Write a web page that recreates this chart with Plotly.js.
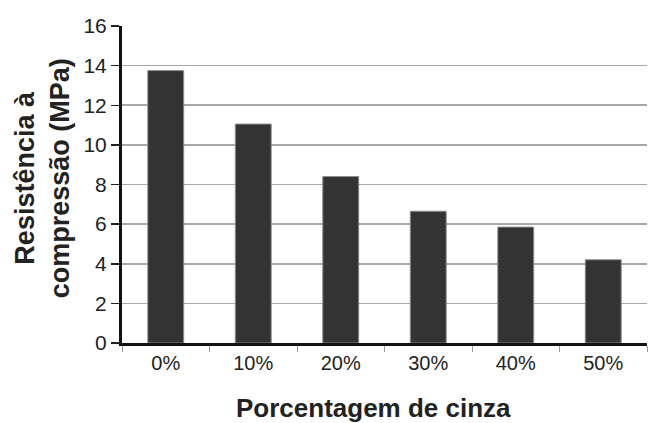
<!DOCTYPE html>
<html>
<head>
<meta charset="utf-8">
<script src="https://cdn.plot.ly/plotly-3.0.1.min.js"></script>
<style>html,body{margin:0;padding:0;background:#fff;}#chart{width:651px;height:423px;}</style>
</head>
<body>
<div id="chart"></div>
<script>
const categories = ["0%", "10%", "20%", "30%", "40%", "50%"];
const resistencia = [13.75, 11.05, 8.4, 6.65, 5.85, 4.2];
const yTickValues = [0, 2, 4, 6, 8, 10, 12, 14, 16];
const xTitle = "Porcentagem de cinza";
const yTitle = "Resistência à<br>compressão (MPa)";

const font = "Liberation Sans, Arial, sans-serif";
const titleFont = {size: 27, family: font, color: "#222222", weight: "bold"};

Plotly.newPlot("chart", [{
  type: "bar",
  x: categories,
  y: resistencia,
  marker: {color: "#333333", line: {color: "#8a8a8a", width: 1}},
  hoverinfo: "none"
}], {
  width: 651, height: 423,
  margin: {l: 122, r: 4, t: 26, b: 80, pad: 0},
  paper_bgcolor: "#ffffff", plot_bgcolor: "#ffffff",
  bargap: 0.59,
  showlegend: false,
  font: {family: font, color: "#222222"},
  xaxis: {
    type: "category",
    tickson: "boundaries",
    ticks: "outside", ticklen: 6, tickwidth: 1, tickcolor: "#999999",
    showline: true, linecolor: "#111111", linewidth: 3,
    showgrid: false, zeroline: false,
    tickfont: {size: 20, family: font, color: "#222222"},
    automargin: false
  },
  yaxis: {
    range: [0, 16],
    tickvals: yTickValues,
    ticks: "outside", ticklen: 8, tickwidth: 1.5, tickcolor: "#222222",
    showline: true, linecolor: "#111111", linewidth: 3,
    showgrid: true, gridcolor: "#a8a8a8", gridwidth: 1.6,
    zeroline: false,
    tickfont: {size: 21, family: font, color: "#222222"},
    automargin: false
  },
  annotations: [
    {text: xTitle, xref: "paper", yref: "paper", x: 0.479, y: -0.205,
     xanchor: "center", yanchor: "middle", showarrow: false,
     font: {size: 26, family: font, color: "#222222", weight: "bold"}},
    {text: yTitle, xref: "paper", yref: "paper", x: -0.152, y: 0.52,
     xanchor: "center", yanchor: "middle", textangle: -90, showarrow: false, font: titleFont}
  ]
}, {staticPlot: true, displayModeBar: false});
</script>
</body>
</html>
